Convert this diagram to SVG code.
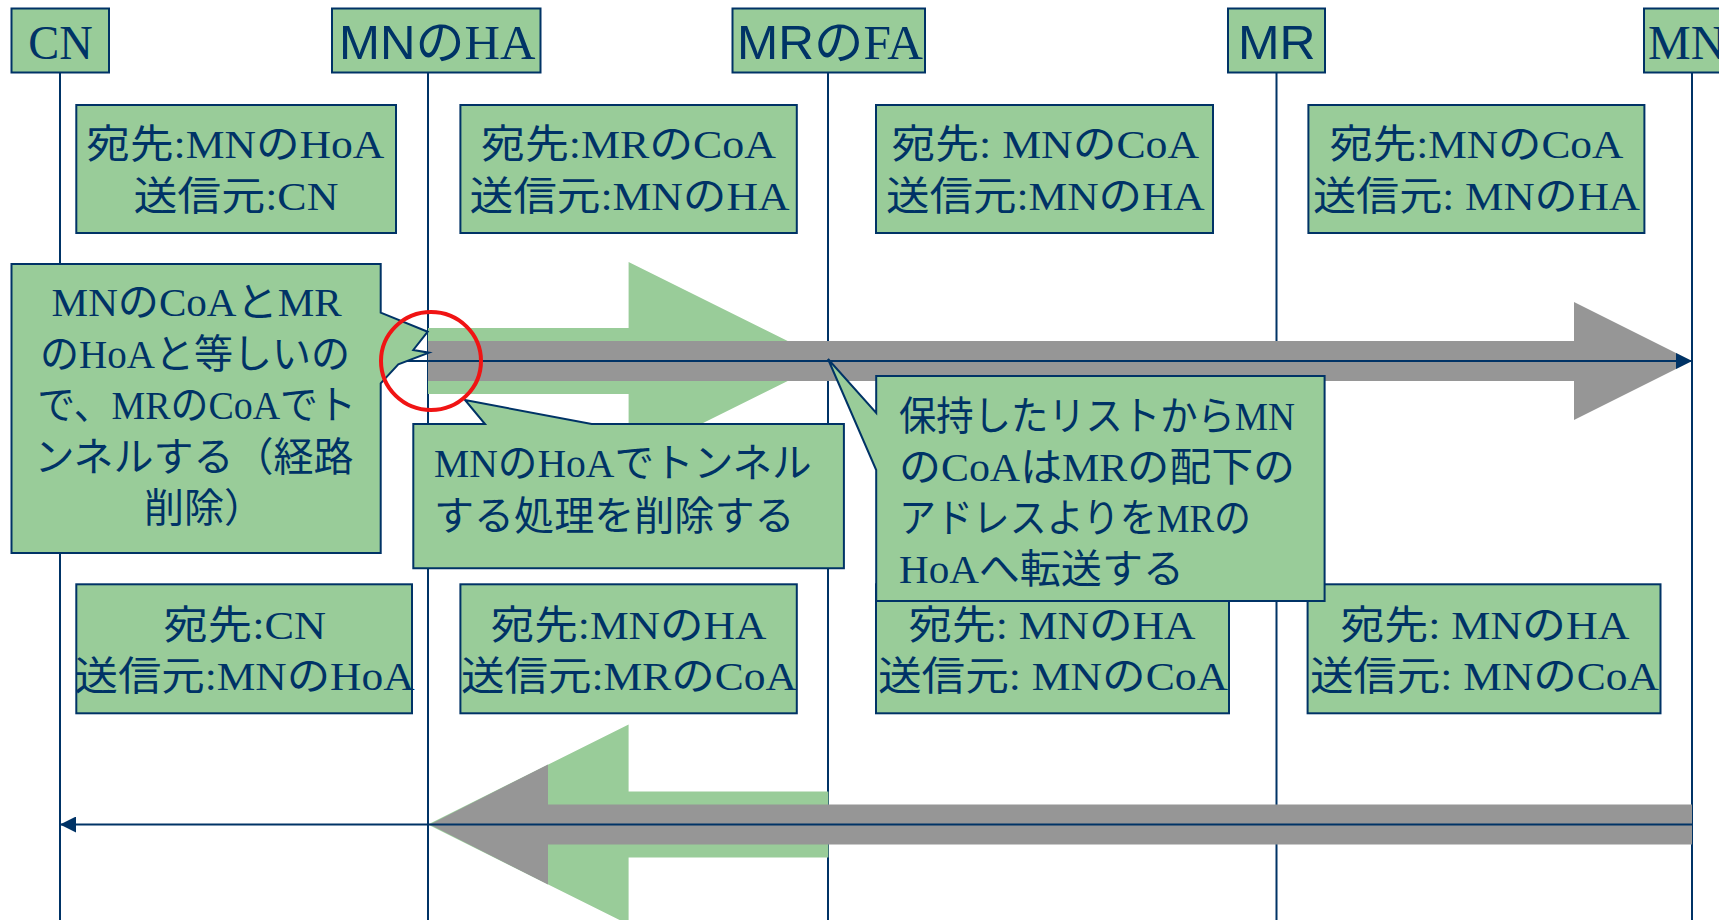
<svg xmlns="http://www.w3.org/2000/svg" width="1719" height="920" viewBox="0 0 1719 920">
<style>
.box{fill:#99CC99;stroke:#003366;stroke-width:2}
.life{stroke:#003366;stroke-width:2;fill:none}
.t{font-family:"Liberation Serif","Noto Sans CJK JP",serif;font-size:40px;fill:#003366}
.h{font-family:"Liberation Serif","Noto Sans CJK JP",serif;font-size:48px;fill:#003366}
.sans{font-family:"Liberation Sans","Noto Sans CJK JP",sans-serif}
.c{text-anchor:middle}
.green{fill:#99CC99}
.gray{fill:#969696}
.msg{stroke:#003366;stroke-width:2;fill:none;marker-end:url(#ah)}
.ring{fill:none;stroke:#F01414;stroke-width:4}
</style>
<defs>
<marker id="ah" markerUnits="userSpaceOnUse" markerWidth="16" markerHeight="16" viewBox="0 0 16 16" refX="16" refY="8" orient="auto">
<path d="M0,0 L16,8 L0,16 Z" fill="#003366"/>
</marker>
</defs>
<rect width="1719" height="920" fill="#FFFFFF"/>

<g id="lifelines">
<line class="life" x1="60" y1="72" x2="60" y2="920"/>
<line class="life" x1="428" y1="72" x2="428" y2="920"/>
<line class="life" x1="828" y1="72" x2="828" y2="920"/>
<line class="life" x1="1276.5" y1="72" x2="1276.5" y2="920"/>
<line class="life" x1="1692" y1="72" x2="1692" y2="920"/>
</g>

<g id="node-CN">
<rect class="box" x="11.5" y="8.5" width="97.5" height="64"/>
<text class="h c" x="60.5" y="59" textLength="64.5" lengthAdjust="spacingAndGlyphs">CN</text>
</g>
<g id="node-MN-HA">
<rect class="box" x="332" y="8.5" width="208.5" height="64"/>
<text class="h c" x="437.3" y="59" textLength="196.5" lengthAdjust="spacingAndGlyphs"><tspan class="sans">MN</tspan>の<tspan>HA</tspan></text>
</g>
<g id="node-MR-FA">
<rect class="box" x="732.5" y="8.5" width="192.5" height="64"/>
<text class="h c" x="830" y="59" textLength="186" lengthAdjust="spacingAndGlyphs"><tspan class="sans">MR</tspan>の<tspan>FA</tspan></text>
</g>
<g id="node-MR">
<rect class="box" x="1228" y="8.5" width="97" height="64"/>
<text class="h c sans" x="1276.8" y="59" textLength="77.6" lengthAdjust="spacingAndGlyphs">MR</text>
</g>
<g id="node-MN">
<rect class="box" x="1644" y="8.5" width="90" height="64"/>
<text class="h" x="1648" y="59">MN</text>
</g>

<g id="connectors">
<polygon class="green" points="428,328 628.6,328 628.6,262 828,361 628.6,460 628.6,394 428,394"/>
<polygon class="gray" points="428,341 1574,341 1574,302 1692,361 1574,420 1574,381 428,381"/>
<polygon class="green" points="828.4,791.5 628.6,791.5 628.6,724.5 428,824.5 628.6,924.5 628.6,857.5 828.4,857.5"/>
<polygon class="gray" points="1692,804.5 548,804.5 548,764.5 430,824.5 548,884.5 548,844.5 1692,844.5"/>
<line class="msg" x1="60" y1="361" x2="1692" y2="361"/>
<line class="msg" x1="1692" y1="824.5" x2="60" y2="824.5"/>
</g>

<g id="info-1">
<rect class="box" x="76.3" y="105" width="319.7" height="128"/>
<text class="t c" x="235.3" y="158.3" textLength="298" lengthAdjust="spacingAndGlyphs">宛先:MNのHoA</text>
<text class="t c" x="235.9" y="210" textLength="205" lengthAdjust="spacingAndGlyphs">送信元:CN</text>
</g>
<g id="info-2">
<rect class="box" x="460.4" y="105" width="336.4" height="128"/>
<text class="t c" x="628.5" y="158.3" textLength="295" lengthAdjust="spacingAndGlyphs">宛先:MRのCoA</text>
<text class="t c" x="629.5" y="210" textLength="320" lengthAdjust="spacingAndGlyphs">送信元:MNのHA</text>
</g>
<g id="info-3">
<rect class="box" x="876" y="105" width="337" height="128"/>
<text class="t c" x="1045.3" y="158.3" textLength="307.6" lengthAdjust="spacingAndGlyphs">宛先: MNのCoA</text>
<text class="t c" x="1045.4" y="210" textLength="318.7" lengthAdjust="spacingAndGlyphs">送信元:MNのHA</text>
</g>
<g id="info-4">
<rect class="box" x="1308.4" y="105" width="336" height="128"/>
<text class="t c" x="1476.4" y="158.3" textLength="294" lengthAdjust="spacingAndGlyphs">宛先:MNのCoA</text>
<text class="t c" x="1476.5" y="210" textLength="327" lengthAdjust="spacingAndGlyphs">送信元: MNのHA</text>
</g>
<g id="info-5">
<rect class="box" x="76.3" y="584.3" width="335.7" height="129"/>
<text class="t c" x="244.8" y="639.3" textLength="162.5" lengthAdjust="spacingAndGlyphs">宛先:CN</text>
<text class="t c" x="244.5" y="689.5" textLength="340" lengthAdjust="spacingAndGlyphs">送信元:MNのHoA</text>
</g>
<g id="info-6">
<rect class="box" x="460.4" y="584.3" width="336.4" height="129"/>
<text class="t c" x="628.6" y="639.3" textLength="275.6" lengthAdjust="spacingAndGlyphs">宛先:MNのHA</text>
<text class="t c" x="628.9" y="689.5" textLength="336" lengthAdjust="spacingAndGlyphs">送信元:MRのCoA</text>
</g>
<g id="info-7">
<rect class="box" x="876" y="584.3" width="353" height="129"/>
<text class="t c" x="1052" y="639.3" textLength="287" lengthAdjust="spacingAndGlyphs">宛先: MNのHA</text>
<text class="t c" x="1053" y="689.5" textLength="350" lengthAdjust="spacingAndGlyphs">送信元: MNのCoA</text>
</g>
<g id="info-8">
<rect class="box" x="1307.6" y="584.3" width="352.9" height="129"/>
<text class="t c" x="1484.9" y="639.3" textLength="289" lengthAdjust="spacingAndGlyphs">宛先: MNのHA</text>
<text class="t c" x="1484.4" y="689.5" textLength="349" lengthAdjust="spacingAndGlyphs">送信元: MNのCoA</text>
</g>

<g id="callout-1">
<path class="box" d="M11.5,264 H380.7 V312.7 L427.7,331.7 L413.3,350 L429,352.7 L398.3,364.3 L380.7,383.3 V553 H11.5 Z"/>
<text class="t c" x="196.6" y="316" textLength="290" lengthAdjust="spacingAndGlyphs">MNのCoAとMR</text>
<text class="t c" x="195" y="367.5" textLength="310" lengthAdjust="spacingAndGlyphs">のHoAと等しいの</text>
<text class="t c" x="196.6" y="419" textLength="318.6" lengthAdjust="spacingAndGlyphs">で、MRのCoAでト</text>
<text class="t c" x="194" y="470.5">ンネルする（経路</text>
<text class="t c" x="204" y="522">削除）</text>
</g>
<g id="callout-2">
<path class="box" d="M413.3,424 H485 L465,400 L591.7,424 H843.9 V568.3 H413.3 Z"/>
<text class="t" x="434" y="476.7" textLength="377.7" lengthAdjust="spacingAndGlyphs">MNのHoAでトンネル</text>
<text class="t" x="434" y="530" textLength="360.5" lengthAdjust="spacingAndGlyphs">する処理を削除する</text>
</g>
<g id="callout-3">
<path class="box" d="M876.2,376 H1324.6 V601 H876.2 V470 L828,359 L876.2,413 Z"/>
<text class="t" x="899" y="430" textLength="396" lengthAdjust="spacingAndGlyphs">保持したリストからMN</text>
<text class="t" x="899" y="481" textLength="396" lengthAdjust="spacingAndGlyphs">のCoAはMRの配下の</text>
<text class="t" x="899" y="532" textLength="352" lengthAdjust="spacingAndGlyphs">アドレスよりをMRの</text>
<text class="t" x="899" y="583" textLength="285" lengthAdjust="spacingAndGlyphs">HoAへ転送する</text>
</g>

<g id="highlight">
<ellipse class="ring" cx="431" cy="361" rx="50" ry="49"/>
</g>
</svg>
